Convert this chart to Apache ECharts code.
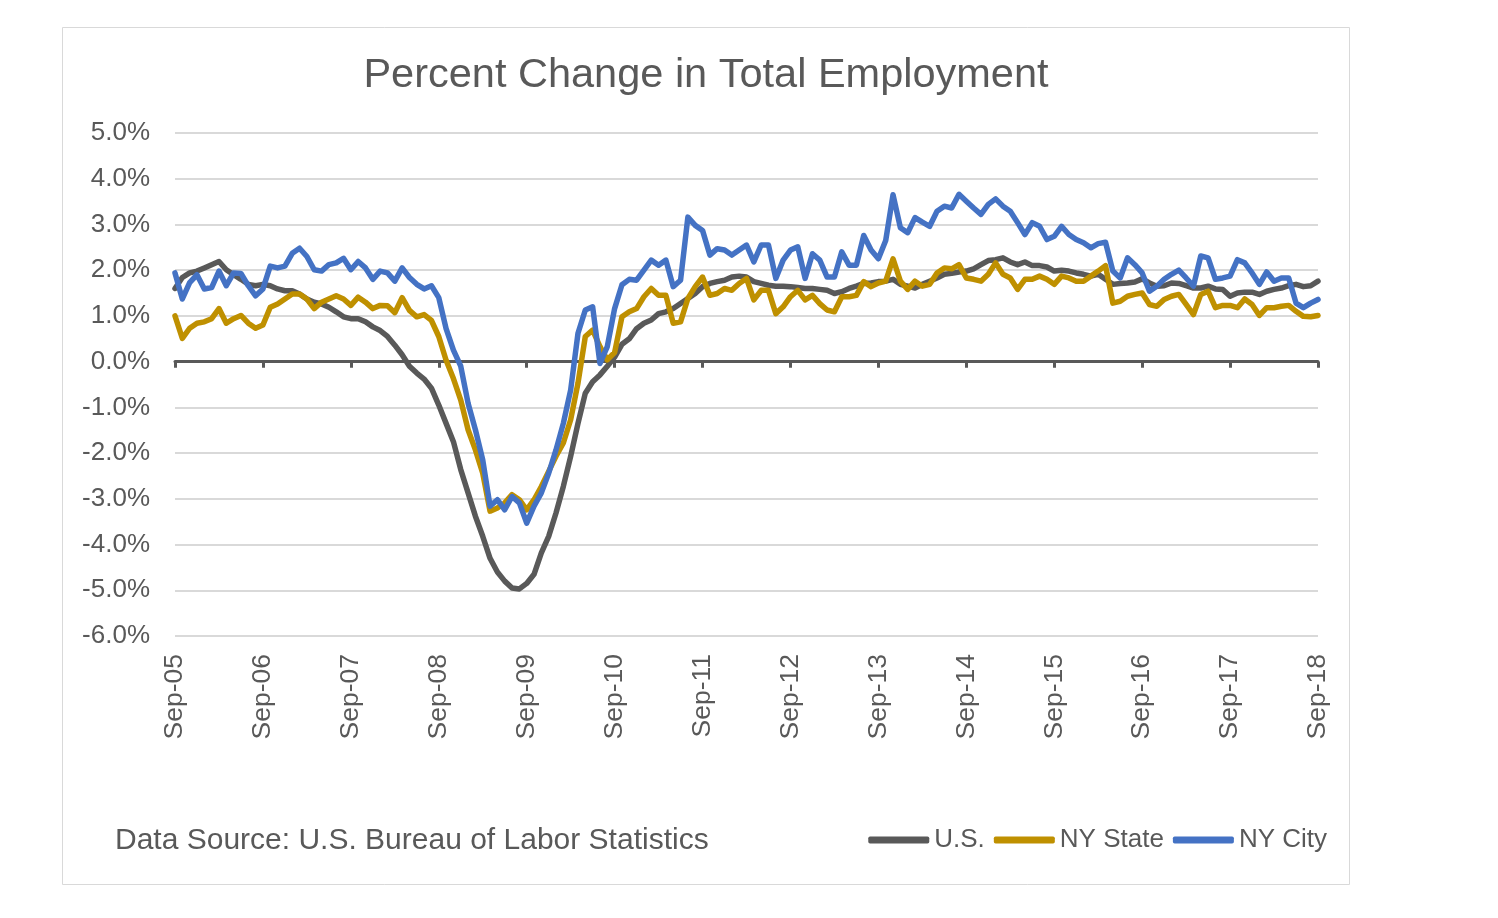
<!DOCTYPE html>
<html>
<head>
<meta charset="utf-8">
<script src="https://cdn.jsdelivr.net/npm/echarts@6/dist/echarts.min.js"></script>
<style>
html,body{margin:0;padding:0;background:#fff;}
#c{width:1498px;height:918px;}
</style>
</head>
<body>
<div id="c"></div>
<script>
var monthNames = ['Jan','Feb','Mar','Apr','May','Jun','Jul','Aug','Sep','Oct','Nov','Dec'];
var categories = [];
for (var y = 2005, m = 8; categories.length < 157; ) {
  categories.push(monthNames[m] + '-' + String(y % 100).padStart(2, '0'));
  m++; if (m === 12) { m = 0; y++; }
}

var usValues = [1.6,1.84,1.94,1.98,2.05,2.12,2.19,2.01,1.9,1.8,1.69,1.66,
1.69,1.66,1.59,1.55,1.55,1.48,1.37,1.3,1.26,1.19,1.09,0.98,
0.94,0.94,0.87,0.76,0.68,0.55,0.36,0.15,-0.1,-0.25,-0.38,-0.58,
-0.95,-1.35,-1.75,-2.36,-2.87,-3.38,-3.82,-4.3,-4.6,-4.8,-4.95,-4.97,
-4.85,-4.65,-4.18,-3.82,-3.31,-2.73,-2.07,-1.35,-0.69,-0.44,-0.29,-0.1,
0.1,0.38,0.5,0.72,0.84,0.91,1.05,1.09,1.16,1.27,1.38,1.49,
1.64,1.71,1.75,1.78,1.85,1.87,1.85,1.75,1.71,1.67,1.65,1.65,
1.64,1.62,1.6,1.6,1.58,1.56,1.49,1.53,1.6,1.65,1.71,1.72,
1.75,1.76,1.8,1.69,1.65,1.61,1.69,1.76,1.83,1.91,1.93,1.96,
1.98,2.03,2.12,2.21,2.23,2.27,2.18,2.12,2.18,2.1,2.1,2.07,
1.98,2.0,1.98,1.94,1.91,1.87,1.91,1.8,1.69,1.71,1.72,1.74,
1.81,1.72,1.65,1.66,1.72,1.71,1.66,1.61,1.61,1.65,1.59,1.58,
1.43,1.5,1.52,1.52,1.47,1.54,1.58,1.61,1.66,1.69,1.64,1.66,
1.76];

var nyStateValues = [1.0,0.51,0.73,0.84,0.87,0.94,1.16,0.84,0.94,1.01,0.84,0.73,
0.8,1.19,1.26,1.37,1.48,1.48,1.37,1.16,1.3,1.37,1.44,1.37,
1.23,1.41,1.3,1.16,1.23,1.22,1.07,1.4,1.12,0.98,1.03,0.9,
0.55,0.03,-0.37,-0.84,-1.49,-1.93,-2.44,-3.27,-3.2,-3.09,-2.91,-3.02,
-3.24,-3.02,-2.73,-2.4,-2.07,-1.78,-1.27,-0.47,0.55,0.69,0.33,0.04,
0.2,0.98,1.09,1.16,1.42,1.6,1.45,1.45,0.84,0.87,1.38,1.64,
1.85,1.45,1.49,1.6,1.56,1.71,1.82,1.35,1.56,1.56,1.05,1.2,
1.42,1.56,1.35,1.45,1.27,1.13,1.09,1.42,1.42,1.45,1.75,1.64,
1.72,1.76,2.25,1.76,1.58,1.76,1.65,1.69,1.94,2.05,2.03,2.12,
1.83,1.8,1.76,1.91,2.16,1.91,1.83,1.58,1.8,1.8,1.87,1.8,
1.69,1.87,1.83,1.76,1.76,1.87,1.98,2.1,1.28,1.32,1.43,1.47,
1.5,1.25,1.21,1.36,1.43,1.47,1.25,1.03,1.47,1.54,1.18,1.23,
1.23,1.18,1.37,1.25,1.01,1.18,1.18,1.21,1.23,1.1,0.99,0.98,
1.01];

var nyCityValues = [1.94,1.37,1.73,1.9,1.59,1.62,1.98,1.66,1.94,1.93,1.66,1.44,
1.59,2.09,2.05,2.09,2.37,2.48,2.3,2.01,1.98,2.12,2.16,2.26,
2.01,2.19,2.05,1.8,1.98,1.94,1.76,2.05,1.84,1.69,1.59,1.66,
1.4,0.72,0.25,-0.1,-0.91,-1.49,-2.15,-3.16,-3.02,-3.24,-2.95,-3.09,
-3.53,-3.16,-2.87,-2.44,-1.93,-1.35,-0.62,0.62,1.13,1.2,-0.04,0.33,
1.16,1.68,1.8,1.78,2.0,2.22,2.11,2.22,1.64,1.78,3.16,2.98,
2.87,2.33,2.47,2.44,2.33,2.44,2.55,2.18,2.55,2.55,1.82,2.22,
2.44,2.51,1.82,2.36,2.22,1.85,1.85,2.4,2.11,2.11,2.76,2.44,
2.25,2.65,3.65,2.93,2.82,3.15,3.05,2.96,3.29,3.4,3.36,3.66,
3.51,3.36,3.22,3.44,3.56,3.4,3.29,3.04,2.78,3.04,2.96,2.67,
2.74,2.96,2.78,2.67,2.6,2.49,2.58,2.61,1.98,1.83,2.27,2.12,
1.94,1.54,1.65,1.8,1.91,2.0,1.83,1.65,2.31,2.27,1.8,1.83,
1.87,2.23,2.16,1.94,1.69,1.96,1.76,1.83,1.83,1.28,1.18,1.28,
1.36];

var yTicks = {min: -6, max: 5, interval: 1};
var titleText = 'Percent Change in Total Employment';
var sourceText = 'Data Source: U.S. Bureau of Labor Statistics';

var FONT = '"Liberation Sans", Arial, sans-serif';
var TXT = '#595959';

var chart = echarts.init(document.getElementById('c'), null, {renderer: 'canvas'});
chart.setOption({
  backgroundColor: '#ffffff',
  animation: false,
  textStyle: {fontFamily: FONT},
  grid: {left: 175, right: 180, top: 133, bottom: 282, containLabel: false},
  graphic: [
    {type: 'rect', shape: {x: 62.5, y: 27.5, width: 1287, height: 857},
     style: {fill: 'none', stroke: '#d9d9d9', lineWidth: 1}, z: -10},
    {type: 'text', x: 706, y: 76,
     style: {text: titleText, font: '41.5px ' + FONT, fill: TXT, textAlign: 'center', textVerticalAlign: 'middle'}},
    {type: 'text', x: 115, y: 841,
     style: {text: sourceText, font: '30px ' + FONT, fill: TXT, textAlign: 'left', textVerticalAlign: 'middle'}}
  ],
  legend: {
    right: 171, top: 827, padding: 0,
    itemWidth: 61, itemHeight: 7, itemGap: 9,
    icon: 'roundRect',
    textStyle: {fontSize: 26, color: TXT, fontFamily: FONT},
    data: ['U.S.', 'NY State', 'NY City']
  },
  xAxis: [
    {type: 'category', data: categories, boundaryGap: false, position: 'bottom',
     axisLine: {show: false, onZero: false}, axisTick: {show: false},
     axisLabel: {interval: 11, rotate: 90, margin: 18, fontSize: 26.5, color: TXT, fontFamily: FONT},
     splitLine: {show: false}},
    {type: 'category', data: categories, boundaryGap: false, position: 'bottom',
     axisLine: {show: true, onZero: true, lineStyle: {color: '#595959', width: 3}},
     axisTick: {show: true, interval: 11, length: 6, inside: false, lineStyle: {color: '#595959', width: 3}},
     axisLabel: {show: false}, splitLine: {show: false}}
  ],
  yAxis: {
    type: 'value', min: yTicks.min, max: yTicks.max, interval: yTicks.interval,
    axisLine: {show: false}, axisTick: {show: false},
    axisLabel: {margin: 25, fontSize: 26, color: TXT, fontFamily: FONT,
      formatter: function (v) { return v.toFixed(1) + '%'; }},
    splitLine: {lineStyle: {color: '#d9d9d9', width: 2}}
  },
  series: [
    {name: 'U.S.', type: 'line', data: usValues, showSymbol: false, symbol: 'none',
     lineStyle: {color: '#595959', width: 5.5, cap: 'round', join: 'round'}, itemStyle: {color: '#595959'}},
    {name: 'NY State', type: 'line', data: nyStateValues, showSymbol: false, symbol: 'none',
     lineStyle: {color: '#BF9000', width: 5.5, cap: 'round', join: 'round'}, itemStyle: {color: '#BF9000'}},
    {name: 'NY City', type: 'line', data: nyCityValues, showSymbol: false, symbol: 'none',
     lineStyle: {color: '#4472C4', width: 5.5, cap: 'round', join: 'round'}, itemStyle: {color: '#4472C4'}}
  ]
});
</script>
</body>
</html>
